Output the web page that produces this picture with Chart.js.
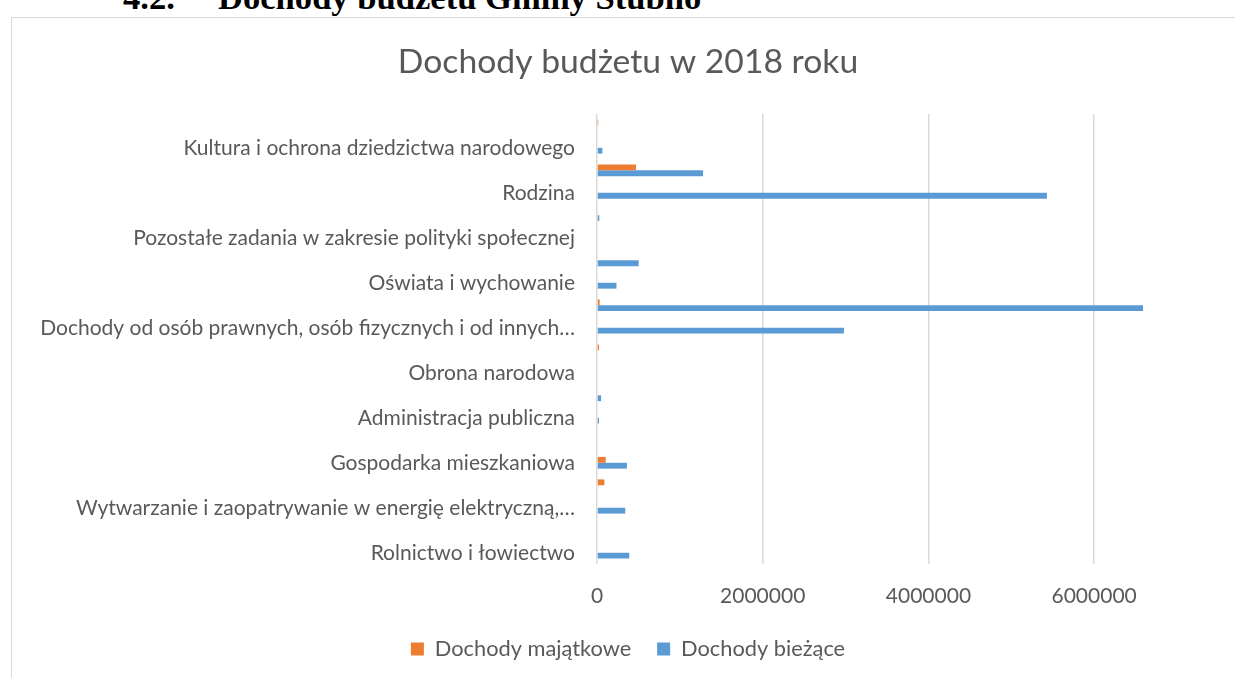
<!DOCTYPE html>
<html>
<head>
<meta charset="utf-8">
<script src="https://cdn.jsdelivr.net/npm/chart.js@4.4.1/dist/chart.umd.min.js"></script>
<style>
  body { margin: 0; background: #fff; overflow: hidden; width: 1235px; height: 678px; }
  #heading {
    position: absolute; left: 123px; top: -23px; height: 40px; line-height: 40px;
    font-family: "Liberation Serif", serif; font-weight: bold; font-size: 34.6px;
    color: #000; white-space: nowrap;
  }
  #heading .txt { position: absolute; left: 95px; top: 0; }
  #frame {
    position: absolute; left: 11px; top: 17px; width: 1400px; height: 800px;
    border: 1px solid #d9d9d9;
  }
  #resultsChart { position: absolute; left: 0; top: 0; }
</style>
</head>
<body>
<div id="heading"><span>4.2.</span><span class="txt">Dochody budżetu Gminy Stubno</span></div>
<div id="frame"></div>
<canvas id="resultsChart" width="1235" height="678"></canvas>
<script>
// categories listed top to bottom, as they appear in the picture
const categories = [
    "Kultura fizyczna",
    "Kultura i ochrona dziedzictwa narodowego",
    "Gospodarka komunalna i ochrona środowiska",
    "Rodzina",
    "Edukacyjna opieka wychowawcza",
    "Pozostałe zadania w zakresie polityki społecznej",
    "Pomoc społeczna",
    "Oświata i wychowanie",
    "Różne rozliczenia",
    "Dochody od osób prawnych, osób fizycznych i od innych jednostek nieposiadających osobowości prawnej",
    "Bezpieczeństwo publiczne i ochrona przeciwpożarowa",
    "Obrona narodowa",
    "Urzędy naczelnych organów władzy państwowej, kontroli i ochrony prawa oraz sądownictwa",
    "Administracja publiczna",
    "Działalność usługowa",
    "Gospodarka mieszkaniowa",
    "Transport i łączność",
    "Wytwarzanie i zaopatrywanie w energię elektryczną, gaz i wodę",
    "Leśnictwo",
    "Rolnictwo i łowiectwo"
];

// only every other category gets a label (as in the original)
const tickLabels = [
    "",
    "Kultura i ochrona dziedzictwa narodowego",
    "",
    "Rodzina",
    "",
    "Pozostałe zadania w zakresie polityki społecznej",
    "",
    "Oświata i wychowanie",
    "",
    "Dochody od osób prawnych, osób fizycznych i od innych…",
    "",
    "Obrona narodowa",
    "",
    "Administracja publiczna",
    "",
    "Gospodarka mieszkaniowa",
    "",
    "Wytwarzanie i zaopatrywanie w energię elektryczną,…",
    "",
    "Rolnictwo i łowiectwo"
];

const dochodyMajatkowe = [
    15000, 0, 470000, 0, 0, 0, 0, 0, 32000, 0,
    24000, 0, 0, 0, 0, 105000, 89000, 0, 0, 0
];

const dochodyBiezace = [
    0, 65000, 1280000, 5430000, 28000, 0, 503000, 235000, 6590000, 2980000,
    0, 0, 49000, 24000, 0, 361000, 0, 341000, 0, 389000
];

const xTicks = [0, 2000000, 4000000, 6000000];

const textColor = "#595959";
Chart.defaults.font.family = "Lato";

const ctx = document.getElementById("resultsChart").getContext("2d");

new Chart(ctx, {
    type: "bar",
    data: {
        labels: categories,
        datasets: [{
            label: "Dochody majątkowe",
            data: dochodyMajatkowe,
            backgroundColor: "#ED7D31",
            borderWidth: 0
        }, {
            label: "Dochody bieżące",
            data: dochodyBiezace,
            backgroundColor: "#5B9BD5",
            borderWidth: 0
        }]
    },
    options: {
        indexAxis: "y",
        responsive: false,
        animation: false,
        layout: {
            padding: { left: 21, right: 0, top: 0, bottom: 8.2 }
        },
        datasets: {
            bar: { categoryPercentage: 0.52, barPercentage: 1 }
        },
        scales: {
            x: {
                min: 0,
                max: 7700000,   // plot runs past the frame's right edge
                afterBuildTicks: (scale) => {
                    scale.ticks = xTicks.map(v => ({ value: v }));
                },
                afterFit: (scale) => { scale.height = 48; },
                grid: { color: "#d9d9d9", lineWidth: 1.5, drawTicks: false },
                border: { display: false },
                ticks: {
                    color: textColor,
                    font: { size: 21 },
                    padding: 20,
                    maxRotation: 0,
                    callback: (value) => String(value)
                }
            },
            y: {
                afterFit: (scale) => { scale.width = 576; },
                grid: { display: false, drawTicks: false },
                border: { display: false },
                ticks: {
                    autoSkip: false,
                    color: textColor,
                    font: { size: 21 },
                    padding: 22,
                    callback: (value, index) => tickLabels[index]
                }
            }
        },
        plugins: {
            title: {
                display: true,
                text: "Dochody budżetu w 2018 roku",
                color: textColor,
                font: { size: 33.7, weight: "normal" },
                padding: { top: 42, bottom: 31.6 }
            },
            legend: {
                position: "bottom",
                labels: {
                    boxWidth: 13,
                    boxHeight: 13,
                    padding: 26,
                    color: textColor,
                    font: { size: 21.8 }
                }
            },
            tooltip: { enabled: false }
        }
    }
});
</script>
</body>
</html>
